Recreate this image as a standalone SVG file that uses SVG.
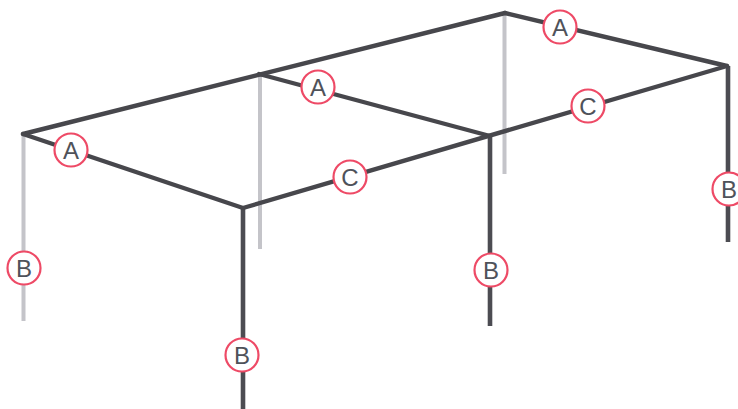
<svg xmlns="http://www.w3.org/2000/svg" width="738" height="409" viewBox="0 0 738 409">
<style>
.bg{fill:#fff}
.light{stroke:#c4c4c9;stroke-width:4;fill:none}
.dark{stroke:#47474c;stroke-width:4.4;fill:none;stroke-linecap:round}
.post{stroke:#4c4c52;stroke-width:4.6;fill:none}
.node circle{fill:#fff;stroke:#ee4a66;stroke-width:2.2}
.node text{font-family:"Liberation Sans",Arial,sans-serif;font-size:24px;fill:#4f525a;text-anchor:middle}
</style>
<rect class="bg" width="738" height="409"/>
<g id="connectors">
<line class="light" x1="23.5" y1="135" x2="23.5" y2="321"/>
<line class="light" x1="260" y1="75" x2="260" y2="249"/>
<line class="light" x1="504.500" y1="14" x2="504.500" y2="174"/>
<line class="post" x1="243" y1="208" x2="243" y2="409"/>
<line class="post" x1="490" y1="136" x2="490" y2="326"/>
<line class="post" x1="728" y1="66" x2="728" y2="242"/>
<line class="dark" x1="23" y1="134" x2="505" y2="13"/>
<line class="dark" x1="23" y1="134" x2="243" y2="208"/>
<line class="dark" x1="259" y1="74" x2="490" y2="136"/>
<line class="dark" x1="505" y1="13" x2="727" y2="66"/>
<line class="dark" x1="243" y1="208" x2="727" y2="66"/>
</g>
<g id="node-a1" class="node"><circle cx="71" cy="150" r="16.500"/><text x="71" y="158.500">A</text></g>
<g id="node-a2" class="node"><circle cx="318" cy="87" r="16.500"/><text x="318" y="95.500">A</text></g>
<g id="node-a3" class="node"><circle cx="560" cy="27" r="16.500"/><text x="560" y="35.500">A</text></g>
<g id="node-b1" class="node"><circle cx="24" cy="268" r="16.500"/><text x="24" y="276.500">B</text></g>
<g id="node-b2" class="node"><circle cx="242" cy="355" r="16.500"/><text x="242" y="363.500">B</text></g>
<g id="node-b3" class="node"><circle cx="491" cy="270" r="16.500"/><text x="491" y="278.500">B</text></g>
<g id="node-b4" class="node"><circle cx="729" cy="189" r="16.500"/><text x="729" y="197.500">B</text></g>
<g id="node-c1" class="node"><circle cx="350" cy="177" r="16.500"/><text x="350" y="185.500">C</text></g>
<g id="node-c2" class="node"><circle cx="588" cy="106" r="16.500"/><text x="588" y="114.500">C</text></g>
</svg>
